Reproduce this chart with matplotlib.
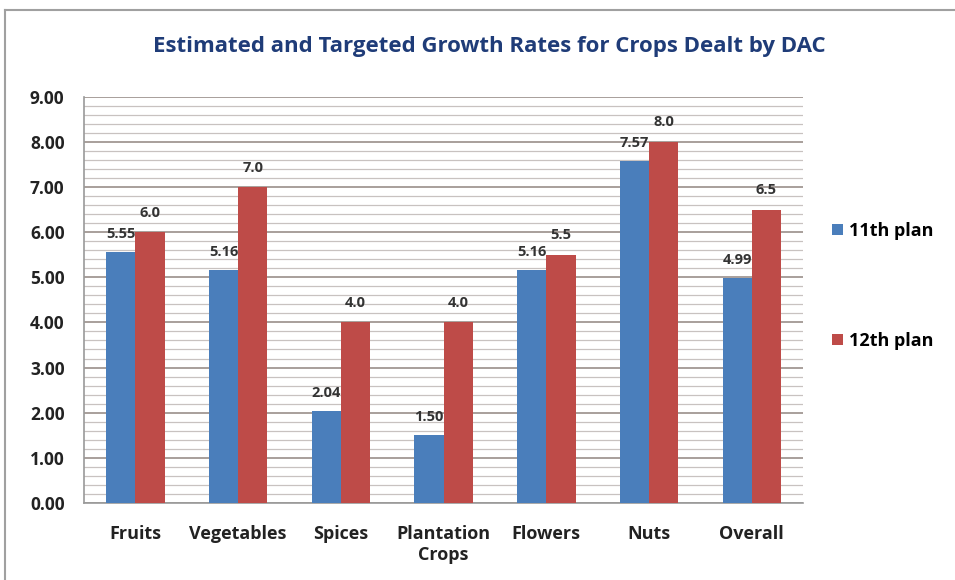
import numpy as np
import matplotlib.pyplot as plt
from matplotlib.lines import Line2D
from matplotlib.ticker import MultipleLocator

plt.rcParams['font.family'] = ['Open Sans', 'DejaVu Sans']

# Growth rates per crop group
crops = ['Fruits', 'Vegetables', 'Spices', 'Plantation\nCrops', 'Flowers', 'Nuts', 'Overall']
plan_11 = [5.55, 5.16, 2.04, 1.50, 5.16, 7.57, 4.99]
plan_12 = [6.0, 7.0, 4.0, 4.0, 5.5, 8.0, 6.5]
series_names = ['11th plan', '12th plan']

blue = '#4A7EBB'
red = '#BE4B48'

fig = plt.figure(figsize=(9.55, 5.8), dpi=100)
ax = fig.add_axes([0.088, 0.133, 0.753, 0.700])

x = np.arange(len(crops))
w = 0.285
b1 = ax.bar(x - w / 2, plan_11, w, color=blue, label=series_names[0], zorder=3)
b2 = ax.bar(x + w / 2, plan_12, w, color=red, label=series_names[1], zorder=3)

for rect, v in zip(b1, plan_11):
    ax.annotate(f'{v:.2f}', (rect.get_x() + rect.get_width() / 2, v),
                xytext=(0, 8), textcoords='offset points', ha='center',
                va='bottom', fontsize=10.5, fontweight='bold', color='#333333')
for rect, v in zip(b2, plan_12):
    ax.annotate(f'{v:.1f}', (rect.get_x() + rect.get_width() / 2, v),
                xytext=(0, 9), textcoords='offset points', ha='center',
                va='bottom', fontsize=10.5, fontweight='bold', color='#333333')

ax.set_xlim(-0.5, len(crops) - 0.5)
ax.set_ylim(0, 9)
ax.yaxis.set_major_locator(MultipleLocator(1))
ax.yaxis.set_minor_locator(MultipleLocator(0.2))
ax.yaxis.set_major_formatter(lambda v, p: f'{v:.2f}')
ax.grid(axis='y', which='major', color='#9a8f8a', linewidth=1.2, zorder=0)
ax.grid(axis='y', which='minor', color='#c8c2c0', linewidth=0.9, zorder=0)

ax.set_xticks(x)
ax.set_xticklabels(crops)
ax.tick_params(axis='x', length=0, pad=16, labelsize=13)
ax.tick_params(axis='y', which='both', length=0, pad=14, labelsize=12.5)
for lbl in ax.get_xticklabels() + ax.get_yticklabels():
    lbl.set_fontweight('bold')
    lbl.set_color('#222222')

for side in ['top', 'right']:
    ax.spines[side].set_visible(False)
for side in ['left', 'bottom']:
    ax.spines[side].set_color('#9a9a9a')
    ax.spines[side].set_linewidth(1.2)

fig.text(0.512, 0.92, 'Estimated and Targeted Growth Rates for Crops Dealt by DAC',
         ha='center', va='center', fontsize=16, fontweight='bold', color='#1F3C78')

ax.legend(loc='center left', bbox_to_anchor=(1.018, 0.535), frameon=False,
          handlelength=0.6, handleheight=0.6, handletextpad=0.3,
          labelspacing=5.1, prop={'weight': 'bold', 'size': 13})

# outer chart frame
fig.add_artist(Line2D([5 / 955, 5 / 955], [0, 1 - 10 / 580], color='#a0a0a0', linewidth=1.5))
fig.add_artist(Line2D([5 / 955, 1], [1 - 10 / 580, 1 - 10 / 580], color='#a0a0a0', linewidth=1.5))

fig.savefig('out.png', dpi=100)
